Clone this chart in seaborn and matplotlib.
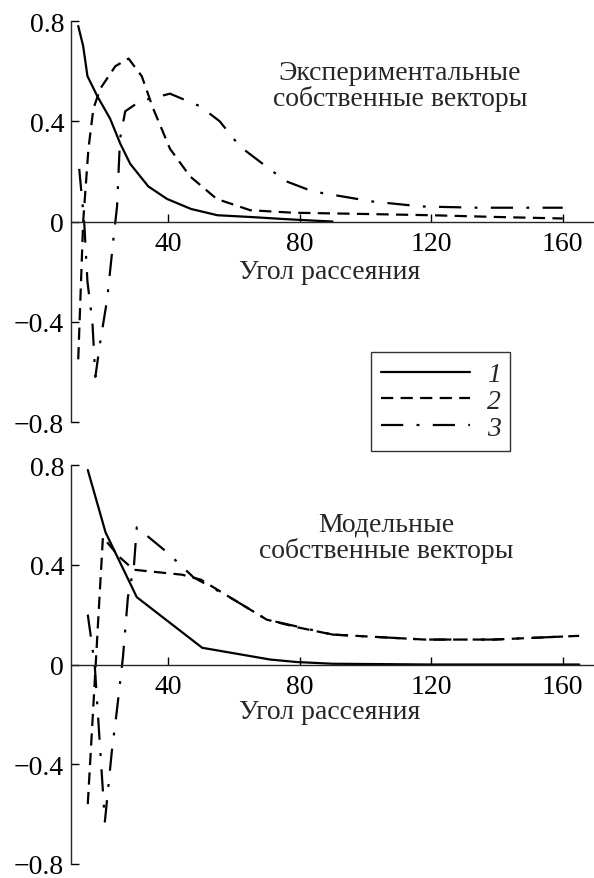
import matplotlib
matplotlib.use("Agg")
import matplotlib.pyplot as plt
from matplotlib.lines import Line2D
import numpy as np
import pandas as pd
import seaborn as sns

# --- experimental eigenvectors (upper panel) ---
exp1_angle = [12.7, 14.2, 15.5, 18.5, 22.4, 25.5, 28.5, 34.0, 39.7, 47.0, 55.0, 65.0, 75.0, 85.0, 90.0]
exp1_value = [0.78, 0.70, 0.58, 0.50, 0.41, 0.31, 0.23, 0.14, 0.09, 0.05, 0.025, 0.018, 0.01, 0.003, 0.0]

exp2_angle = [12.7, 14.2, 15.8, 17.3, 19.4, 24.0, 28.0, 32.0, 35.5, 40.6, 46.7, 54.8, 65.0, 78.0, 100.0, 120.0, 140.0, 160.0]
exp2_value = [-0.55, 0.0, 0.29, 0.45, 0.53, 0.62, 0.65, 0.58, 0.45, 0.29, 0.18, 0.09, 0.045, 0.035, 0.03, 0.025, 0.018, 0.012]

exp3_angle = [13.0, 14.5, 15.5, 17.0, 17.9, 19.4, 21.5, 23.4, 24.5, 25.4, 27.0, 31.5, 40.6, 49.7, 55.7, 61.8,
              71.8, 76.0, 84.0, 102.0, 117.0, 134.0, 160.0]
exp3_value = [0.21, 0.0, -0.24, -0.40, -0.62, -0.48, -0.31, -0.07, 0.06, 0.33, 0.44, 0.48, 0.51, 0.46, 0.40, 0.30,
              0.20, 0.16, 0.12, 0.08, 0.06, 0.055, 0.055]

# --- model eigenvectors (lower panel) ---
mod1_angle = [15.6, 21.0, 30.5, 50.4, 71.0, 79.0, 90.0, 120.0, 165.0]
mod1_value = [0.78, 0.53, 0.27, 0.067, 0.02, 0.01, 0.003, 0.0, 0.0]

mod2_angle = [15.6, 20.2, 25.3, 29.6, 44.3, 50.0, 60.0, 70.0, 79.0, 90.0, 118.0, 139.0, 165.0]
mod2_value = [-0.56, 0.51, 0.43, 0.38, 0.36, 0.34, 0.26, 0.18, 0.15, 0.12, 0.10, 0.10, 0.115]

mod3_angle = [15.6, 17.7, 20.8, 22.9, 24.4, 26.3, 27.8, 29.6, 30.5, 39.7, 47.7, 60.0, 70.0, 80.0, 90.0, 118.0, 139.0, 165.0]
mod3_value = [0.20, 0.0, -0.63, -0.35, -0.19, 0.03, 0.27, 0.39, 0.55, 0.45, 0.35, 0.26, 0.18, 0.15, 0.12, 0.10, 0.10, 0.115]

panel_titles = ["Экспериментальные\nсобственные векторы", "Модельные\nсобственные векторы"]
x_label = "Угол рассеяния"
legend_labels = ["1", "2", "3"]
x_ticks = [40, 80, 120, 160]
y_ticks = [-0.8, -0.4, 0, 0.4, 0.8]
y_ticklabels = ["\u22120.8", "\u22120.4", "0", "0.4", "0.8"]


def long_frame(series):
    parts = []
    for name, xs, ys in series:
        parts.append(pd.DataFrame({"angle": xs, "value": ys, "vec": name}))
    return pd.concat(parts, ignore_index=True)


exp_df = long_frame([("1", exp1_angle, exp1_value), ("2", exp2_angle, exp2_value), ("3", exp3_angle, exp3_value)])
mod_df = long_frame([("1", mod1_angle, mod1_value), ("2", mod2_angle, mod2_value), ("3", mod3_angle, mod3_value)])

sns.set_style("ticks")
plt.rcParams["font.family"] = ["Liberation Serif", "DejaVu Serif"]

W, H = 594, 879
LW = 1.6
dash_map = {"1": "", "2": (5.5, 3.3), "3": (10.0, 6.0, 1.3, 6.0)}

fig = plt.figure(figsize=(W / 100, H / 100), dpi=100)
ax_top = fig.add_axes([71 / W, 1 - 423 / H, 1 - 71 / W, (423 - 22) / H])
ax_bot = fig.add_axes([71 / W, 1 - 865 / H, 1 - 71 / W, (865 - 466) / H])

FS = 20

for ax, df, title, title_px, label_y in [
    (ax_top, exp_df, panel_titles[0], (400, 86), -0.20),
    (ax_bot, mod_df, panel_titles[1], (386, 538), -0.19),
]:
    sns.lineplot(data=df, x="angle", y="value", style="vec", dashes=dash_map, color="black",
                 linewidth=LW, estimator=None, sort=False, legend=False, ax=ax)
    ax.set_xlim(10.5, 169.5)
    ax.set_ylim(-0.8, 0.8)
    ax.spines["top"].set_visible(False)
    ax.spines["right"].set_visible(False)
    ax.spines["bottom"].set_position(("data", 0))
    for s in ("left", "bottom"):
        ax.spines[s].set_linewidth(1.0)
    ax.set_xticks(x_ticks)
    ax.set_yticks(y_ticks)
    ax.set_yticklabels(y_ticklabels)
    ax.tick_params(axis="both", direction="in", length=6, width=1.0, labelsize=FS, colors="black")
    ax.tick_params(axis="x", pad=7)
    ax.tick_params(axis="y", pad=5)
    ax.set_xlabel("")
    ax.set_ylabel("")
    ax.text(89, label_y, x_label, ha="center", va="center", fontsize=FS)
    fig.text(title_px[0] / W, 1 - title_px[1] / H, title, ha="center", va="center",
             fontsize=FS, linespacing=1.0)

handles = [Line2D([0], [0], color="black", linewidth=LW, linestyle="-"),
           Line2D([0], [0], color="black", linewidth=LW, dashes=dash_map["2"]),
           Line2D([0], [0], color="black", linewidth=LW, dashes=dash_map["3"])]
leg = fig.legend(handles, legend_labels, loc="upper left", bbox_to_anchor=(371 / W, 1 - 353 / H),
                 borderaxespad=0, frameon=True, fancybox=False, edgecolor="black",
                 handlelength=3.2, handletextpad=0.6, borderpad=0.36, labelspacing=0.04,
                 prop={"size": FS, "style": "italic"})
leg.get_frame().set_linewidth(1.0)

fig.savefig("out.png", dpi=100)
